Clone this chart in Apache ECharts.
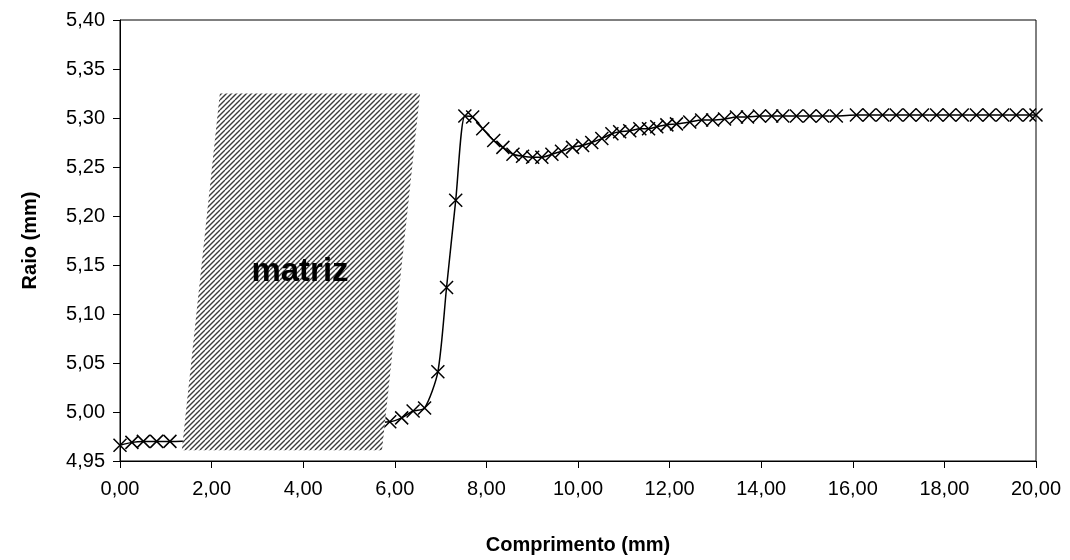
<!DOCTYPE html>
<html>
<head>
<meta charset="utf-8">
<script src="https://cdn.jsdelivr.net/npm/echarts@6/dist/echarts.min.js"></script>
<style>
  html, body { margin: 0; padding: 0; background: #fff; }
  #chart { width: 1070px; height: 560px; }
</style>
</head>
<body>
<div id="chart"></div>
<script>
// ---- data ----
var comprimento = [
  0.00, 0.26, 0.51, 0.80, 1.09,
  5.89, 6.15, 6.40, 6.65, 6.94, 7.13, 7.33, 7.53, 7.70, 7.92, 8.16, 8.36,
  8.58, 8.79, 9.01, 9.21, 9.43, 9.64, 9.88, 10.10, 10.30, 10.52, 10.74,
  10.91, 11.13, 11.35, 11.54, 11.72, 11.94, 12.15, 12.44, 12.70, 12.94,
  13.20, 13.46, 13.70, 13.96, 14.23, 14.47, 14.77, 15.06, 15.34, 15.64,
  16.08, 16.36, 16.65, 16.95, 17.24, 17.52, 17.83, 18.11, 18.39, 18.70,
  18.98, 19.27, 19.57, 19.86, 20.00
];
var raio = [
  4.966, 4.969, 4.970, 4.970, 4.970,
  4.990, 4.994, 5.001, 5.004, 5.041, 5.127, 5.216, 5.302, 5.301, 5.289, 5.277, 5.270,
  5.263, 5.261, 5.260, 5.260, 5.263, 5.266, 5.270, 5.272, 5.275, 5.279, 5.284,
  5.286, 5.287, 5.289, 5.289, 5.291, 5.293, 5.294, 5.296, 5.298, 5.298,
  5.299, 5.301, 5.301, 5.302, 5.302, 5.302, 5.302, 5.302, 5.302, 5.302,
  5.303, 5.303, 5.303, 5.303, 5.303, 5.303, 5.303, 5.303, 5.303, 5.303,
  5.303, 5.303, 5.303, 5.303, 5.303
];
// matrix (hatched) region corners: [comprimento, raio]
var matrizX = [1.35, 5.72, 6.55, 2.18];
var matrizY = [4.961, 4.961, 5.325, 5.325];
var matrizLabel = 'matriz';
var matrizLabelPos = [3.93, 5.143];
var xTicks = { min: 0, max: 20, interval: 2 };
var yTicks = { min: 4.95, max: 5.40, interval: 0.05 };

// ---- hatch pattern ----
var pat = document.createElement('canvas');
pat.width = 10; pat.height = 10;
var pctx = pat.getContext('2d');
pctx.fillStyle = '#ffffff';
pctx.fillRect(0, 0, 10, 10);
pctx.strokeStyle = '#3c3c3c';
pctx.lineWidth = 1.35;
for (var k = -15; k <= 15; k += 5) {
  pctx.beginPath();
  pctx.moveTo(k, 10);
  pctx.lineTo(k + 10, 0);
  pctx.stroke();
}

var lineData = comprimento.map(function (x, i) { return [x, raio[i]]; });
var comma = function (d) { return function (v) { return v.toFixed(d).replace('.', ','); }; };
var font = 'Liberation Sans, Arial, sans-serif';

var chart = echarts.init(document.getElementById('chart'), null, { renderer: 'canvas' });
chart.setOption({
  animation: false,
  backgroundColor: '#ffffff',
  grid: { left: 120, right: 34, top: 20, bottom: 94, show: true, borderColor: '#000', borderWidth: 1, backgroundColor: 'transparent' },
  xAxis: {
    type: 'value', min: xTicks.min, max: xTicks.max, interval: xTicks.interval,
    name: 'Comprimento (mm)', nameLocation: 'middle', nameGap: 74,
    nameTextStyle: { fontFamily: font, fontSize: 20, fontWeight: 'bold', color: '#000' },
    axisLine: { lineStyle: { color: '#000', width: 1 } },
    axisTick: { show: true, length: 7, lineStyle: { color: '#000' } },
    axisLabel: { formatter: comma(2), fontFamily: font, fontSize: 20, color: '#000', margin: 18 },
    splitLine: { show: false }
  },
  yAxis: {
    type: 'value', min: yTicks.min, max: yTicks.max, interval: yTicks.interval,
    name: 'Raio (mm)', nameLocation: 'middle', nameGap: 80, nameRotate: 90,
    nameTextStyle: { fontFamily: font, fontSize: 20, fontWeight: 'bold', color: '#000' },
    axisLine: { show: true, lineStyle: { color: '#000', width: 1 } },
    axisTick: { show: true, length: 7, lineStyle: { color: '#000' } },
    axisLabel: { formatter: comma(2), fontFamily: font, fontSize: 20, color: '#000', margin: 15 },
    splitLine: { show: false }
  },
  series: [
    {
      type: 'line',
      data: lineData,
      smooth: 0.25,
      z: 2,
      symbol: 'path://M0,0 L10,10 M10,0 L0,10',
      symbolSize: 13,
      itemStyle: { color: 'transparent', borderColor: '#000', borderWidth: 1.5 },
      lineStyle: { color: '#000', width: 1.5 },
      emphasis: { disabled: true },
      silent: true
    },
    {
      type: 'custom',
      z: 5,
      silent: true,
      data: [0],
      renderItem: function (params, api) {
        var pts = matrizX.map(function (x, i) { return api.coord([x, matrizY[i]]); });
        var c = api.coord(matrizLabelPos);
        return {
          type: 'group',
          children: [
            { type: 'polygon', shape: { points: pts }, style: { fill: { image: pat, repeat: 'repeat' }, stroke: null } },
            { type: 'text', style: { text: matrizLabel, x: c[0], y: c[1], align: 'center', verticalAlign: 'middle',
              font: 'bold 33px ' + font, fill: '#000' } }
          ]
        };
      }
    }
  ]
});
</script>
</body>
</html>
